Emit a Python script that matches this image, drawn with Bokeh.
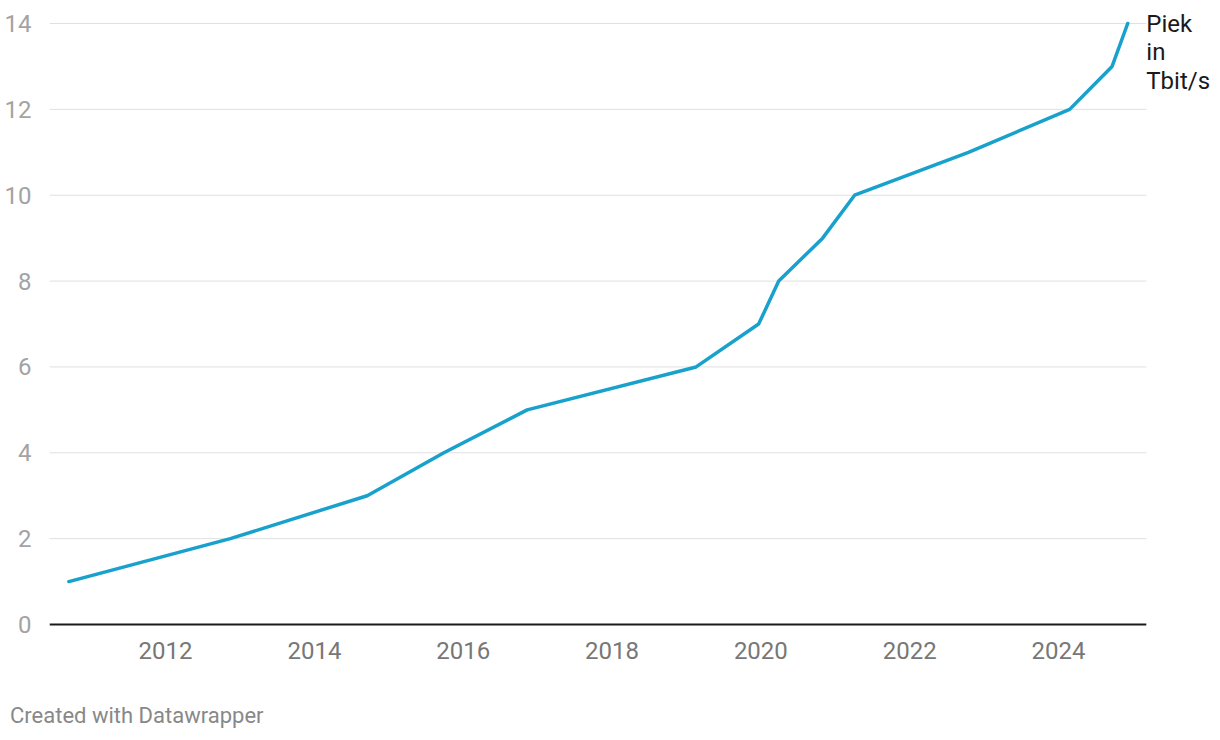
from bokeh.plotting import figure
from bokeh.models import Label, Range1d, FixedTicker, Div
from bokeh.layouts import column
from bokeh.embed import file_html
from bokeh.resources import INLINE

years = [2010.70, 2012.87, 2014.71, 2015.74, 2016.86, 2019.13, 2019.97,
         2020.24, 2020.83, 2021.26, 2022.79, 2024.15, 2024.72, 2024.93]
peak_tbit = [1, 2, 3, 4, 5, 6, 7, 8, 9, 10, 11, 12, 13, 14]
x_ticks = [2012, 2014, 2016, 2018, 2020, 2022, 2024]
y_ticks = [0, 2, 4, 6, 8, 10, 12, 14]
label_lines = ["Piek", "in", "Tbit/s"]
footer = "Created with Datawrapper"

FONT = "Roboto"
X0, X_GRID_END, X1 = 2010.44, 2025.18, 2026.11
Y_BOTTOM, Y_TOP = -0.07, 14.536

p = figure(width=1215, height=670, output_backend="svg", toolbar_location=None,
           x_range=Range1d(X0, X1), y_range=Range1d(Y_BOTTOM, Y_TOP),
           min_border_left=49, min_border_right=0, min_border_top=0,
           min_border_bottom=43)
p.outline_line_color = None
p.background_fill_color = "white"
p.border_fill_color = "white"
p.grid.grid_line_color = None

# gridlines and baseline, ending where the reference's grid ends
grid_y = y_ticks[1:]
p.segment(x0=[X0] * len(grid_y), y0=grid_y, x1=[X_GRID_END] * len(grid_y), y1=grid_y,
          line_color="#e0e0e0", line_width=1)
p.segment(x0=[X0], y0=[0], x1=[X_GRID_END], y1=[0], line_color="#1a1a1a", line_width=2)

p.yaxis.ticker = FixedTicker(ticks=y_ticks)
p.yaxis.axis_line_color = None
p.yaxis.major_tick_line_color = None
p.yaxis.minor_tick_line_color = None
p.yaxis.major_label_text_font = FONT
p.yaxis.major_label_text_font_size = "24px"
p.yaxis.major_label_text_color = "#a3a3a3"
p.yaxis.major_label_standoff = 12

p.xaxis.ticker = FixedTicker(ticks=x_ticks)
p.xaxis.axis_line_color = None
p.xaxis.major_tick_line_color = None
p.xaxis.minor_tick_line_color = None
p.xaxis.major_label_text_font = FONT
p.xaxis.major_label_text_font_size = "24px"
p.xaxis.major_label_text_color = "#777777"
p.xaxis.major_label_standoff = 8

p.line(years, peak_tbit, line_color="#18a1cd", line_width=3.5, line_join="round", line_cap="round")

for i, t in enumerate(label_lines):
    p.add_layout(Label(x=X_GRID_END, y=14, text=t, x_offset=0, y_offset=-28.5 * i,
                       text_baseline="middle", text_align="left",
                       text_font=FONT, text_font_size="24px", text_color="#1a1a1a"))

foot = Div(text=footer, width=400, height=30, margin=(33, 0, 0, 10),
           styles={"font-family": FONT, "font-size": "22px", "color": "#888888",
                   "line-height": "26px", "white-space": "nowrap"})

layout = column(p, foot, spacing=0)
open("out.html", "w").write(file_html(layout, INLINE))
